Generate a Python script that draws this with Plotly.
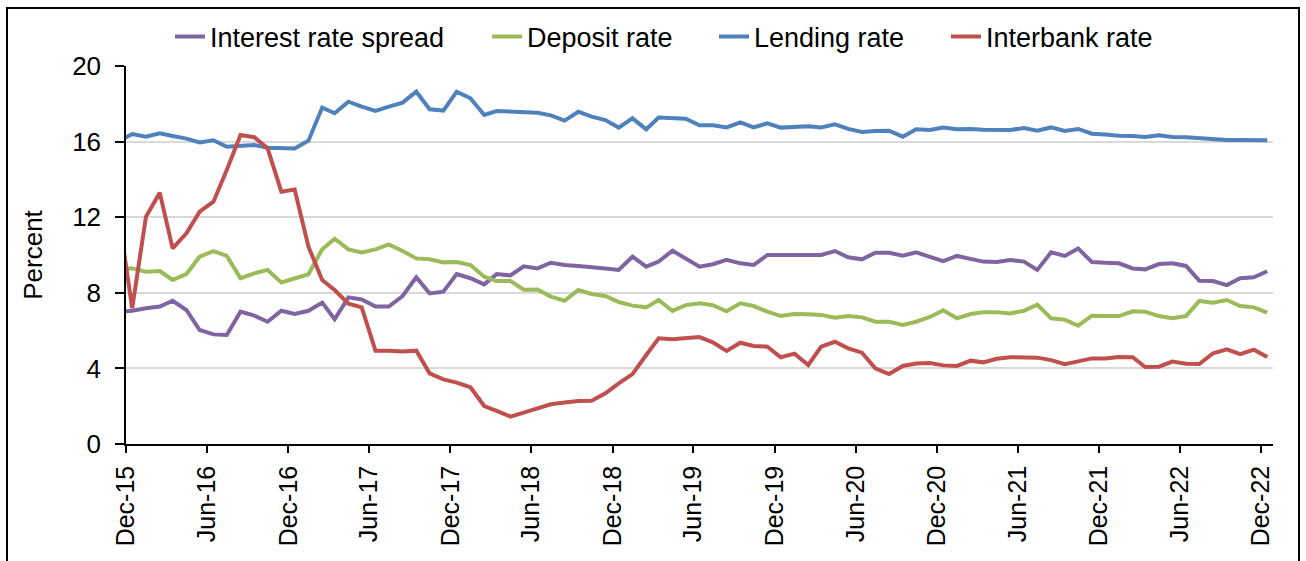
import pandas as pd
import plotly.graph_objects as go

# Monthly observations, Nov-2015 .. Dec-2022 (plotted mid-month)
months = pd.date_range("2015-11-01", "2022-12-01", freq="MS") + pd.Timedelta(days=14)

spread = [6.99,
    7.05, 7.18, 7.27, 7.58, 7.09, 6.03, 5.80, 5.77, 7.00, 6.79,
    6.47, 7.05, 6.88, 7.05, 7.48, 6.60, 7.76, 7.65, 7.27, 7.27,
    7.83, 8.82, 7.97, 8.06, 8.99, 8.77, 8.45, 8.99, 8.92, 9.40,
    9.29, 9.59, 9.47, 9.42, 9.38, 9.29, 9.21, 9.91, 9.38, 9.65,
    10.23, 9.82, 9.38, 9.51, 9.74, 9.56, 9.47, 10.00, 10.00, 9.96,
    10.00, 10.00, 10.21, 9.88, 9.77, 10.12, 10.12, 9.96, 10.14, 9.90,
    9.67, 9.95, 9.77, 9.65, 9.63, 9.74, 9.65, 9.21, 10.14, 9.95,
    10.35, 9.63, 9.59, 9.56, 9.29, 9.24, 9.52, 9.56, 9.42, 8.64,
    8.62, 8.41, 8.77, 8.82, 9.14]

deposit = [9.27,
    9.29, 9.12, 9.15, 8.68, 8.99, 9.91, 10.21, 9.95, 8.77, 9.03,
    9.21, 8.55, 8.77, 8.98, 10.30, 10.86, 10.30, 10.14, 10.30, 10.56,
    10.21, 9.82, 9.77, 9.61, 9.63, 9.47, 8.85, 8.62, 8.63, 8.16,
    8.18, 7.80, 7.58, 8.15, 7.94, 7.83, 7.51, 7.32, 7.23, 7.62,
    7.04, 7.35, 7.44, 7.34, 7.02, 7.44, 7.30, 7.00, 6.77, 6.88,
    6.86, 6.83, 6.68, 6.77, 6.70, 6.47, 6.47, 6.30, 6.47, 6.72,
    7.07, 6.65, 6.88, 6.97, 6.97, 6.91, 7.05, 7.37, 6.65, 6.58,
    6.26, 6.79, 6.77, 6.77, 7.02, 7.00, 6.77, 6.65, 6.77, 7.57,
    7.48, 7.62, 7.30, 7.23, 6.95]

lending = [16.03,
    16.40, 16.26, 16.44, 16.30, 16.16, 15.96, 16.07, 15.73, 15.78, 15.82,
    15.68, 15.64, 15.64, 16.05, 17.80, 17.50, 18.11, 17.85, 17.62, 17.85,
    18.06, 18.64, 17.71, 17.64, 18.64, 18.29, 17.41, 17.62, 17.58, 17.55,
    17.53, 17.39, 17.11, 17.58, 17.32, 17.14, 16.74, 17.23, 16.65, 17.27,
    17.25, 17.21, 16.86, 16.86, 16.75, 17.02, 16.75, 16.97, 16.74, 16.77,
    16.81, 16.75, 16.91, 16.67, 16.51, 16.56, 16.58, 16.26, 16.65, 16.61,
    16.75, 16.65, 16.67, 16.63, 16.60, 16.61, 16.72, 16.58, 16.75, 16.56,
    16.67, 16.42, 16.38, 16.31, 16.30, 16.24, 16.33, 16.24, 16.23, 16.17,
    16.12, 16.08, 16.08, 16.10, 16.07]

interbank = [12.00,
    7.18, 12.03, 13.30, 10.35, 11.15, 12.29, 12.82, 14.50, 16.35, 16.23,
    15.64, 13.35, 13.47, 10.44, 8.68, 8.15, 7.42, 7.23, 4.94, 4.94,
    4.89, 4.94, 3.74, 3.42, 3.25, 3.00, 2.01, 1.75, 1.45, 1.66,
    1.87, 2.10, 2.20, 2.28, 2.29, 2.68, 3.21, 3.70, 4.71, 5.59,
    5.54, 5.59, 5.66, 5.38, 4.92, 5.36, 5.19, 5.15, 4.59, 4.78,
    4.18, 5.15, 5.41, 5.06, 4.83, 4.00, 3.70, 4.13, 4.26, 4.28,
    4.16, 4.13, 4.41, 4.32, 4.51, 4.59, 4.60, 4.57, 4.44, 4.22,
    4.37, 4.53, 4.53, 4.60, 4.59, 4.07, 4.09, 4.36, 4.25, 4.23,
    4.80, 5.01, 4.76, 4.99, 4.60]

names = ["Interest rate spread", "Deposit rate", "Lending rate", "Interbank rate"]
colors = ["#8064A2", "#9BBB59", "#4F81BD", "#C0504D"]
series = [spread, deposit, lending, interbank]
legend_ids = ["legend", "legend2", "legend3", "legend4"]
legend_px = [170, 487, 714, 946]

FONT = "Liberation Sans, Arial, sans-serif"

fig = go.Figure()
for name, col, vals, lid in zip(names, colors, series, legend_ids):
    fig.add_trace(go.Scatter(x=months, y=vals, name=name, mode="lines",
                             line=dict(color=col, width=4), legend=lid))

W, H = 1306, 561
L, R, T, B = 126, 33, 66, 117
pw, ph = W - L - R, H - T - B

def px_x(x):
    return (x - L) / pw

def px_y(y):
    return (H - B - y) / ph

leg_common = dict(orientation="h", yanchor="middle", xanchor="left",
                  y=px_y(37), bgcolor="rgba(0,0,0,0)",
                  font=dict(family=FONT, size=27, color="black"))
layout_legends = {}
for lid, lx in zip(legend_ids, legend_px):
    layout_legends[lid] = dict(leg_common, x=px_x(lx))

fig.update_layout(
    width=W, height=H,
    margin=dict(l=L, r=R, t=T, b=B, autoexpand=False),
    paper_bgcolor="white", plot_bgcolor="white",
    font=dict(family=FONT, size=25, color="black"),
    showlegend=True,
    **layout_legends,
)

fig.update_xaxes(
    type="date",
    range=["2015-12-01", "2022-12-28"],
    tick0="2015-12-01", dtick="M6", tickformat="%b-%y",
    tickangle=-90,
    ticks="outside", ticklen=7, tickwidth=1.5, tickcolor="black",
    ticklabelstandoff=3,
    showline=True, linecolor="black", linewidth=1.5,
    showgrid=False, zeroline=False,
    tickfont=dict(family=FONT, size=25, color="black"),
    automargin=False,
)
fig.update_yaxes(
    range=[0, 20], tick0=0, dtick=4,
    ticks="outside", ticklen=9, tickwidth=1.5, tickcolor="black",
    ticklabelstandoff=9,
    showline=True, linecolor="black", linewidth=1.5,
    showgrid=True, gridcolor="#D9D9D9", gridwidth=1.5,
    zeroline=False,
    tickfont=dict(family=FONT, size=26, color="black"),
    title=dict(text="Percent", font=dict(family=FONT, size=26, color="black"), standoff=22),
    automargin=False,
)

# outer chart frame
fig.add_shape(type="rect", xref="paper", yref="paper",
              x0=px_x(7), x1=px_x(1299), y0=px_y(575), y1=px_y(8),
              line=dict(color="black", width=2), fillcolor="rgba(0,0,0,0)", layer="below")

fig.write_html("out.html", config={"displayModeBar": False},
               post_script="document.body.style.margin='0';")
